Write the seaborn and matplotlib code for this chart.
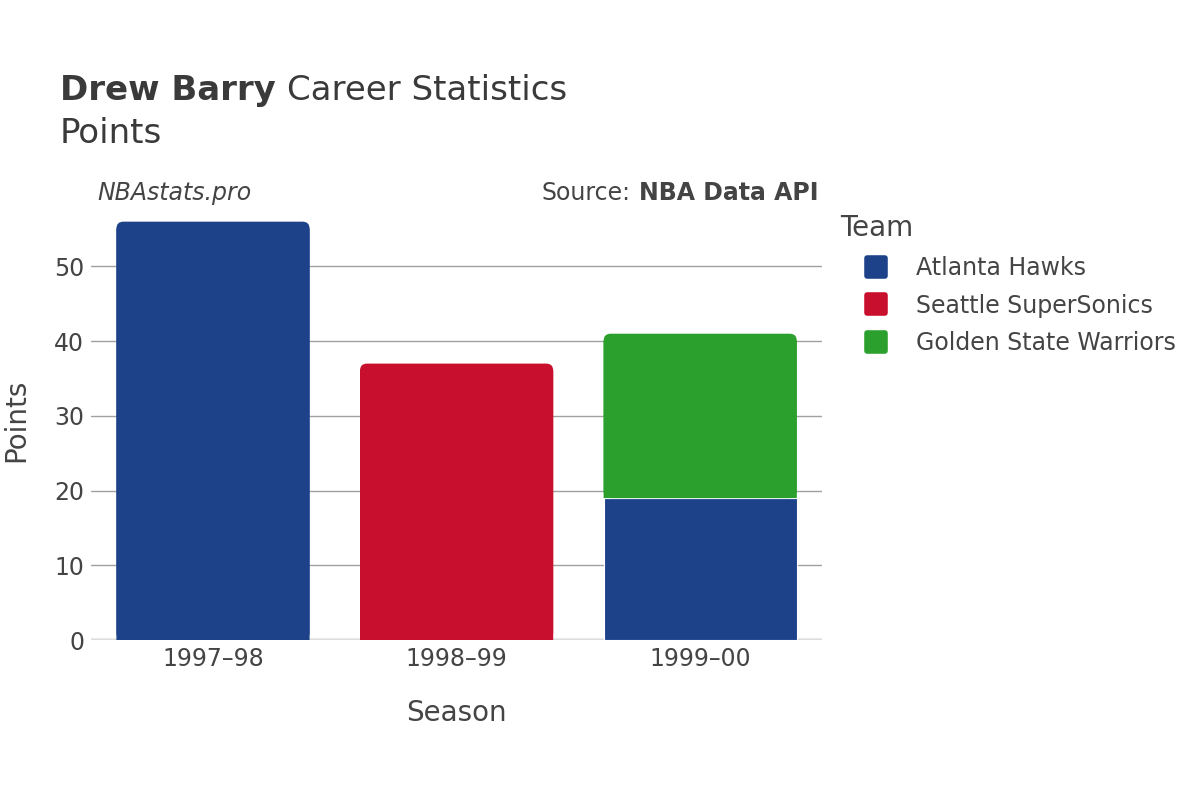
import pandas as pd
import numpy as np
import matplotlib
matplotlib.use("Agg")
import matplotlib.pyplot as plt
import seaborn as sns
from matplotlib.patches import FancyBboxPatch
from matplotlib.lines import Line2D
from matplotlib.markers import MarkerStyle

# data
seasons = ["1997–98", "1998–99", "1999–00", "1999–00"]
teams = ["Atlanta Hawks", "Seattle SuperSonics", "Atlanta Hawks", "Golden State Warriors"]
points = [56, 37, 19, 22]

team_order = ["Atlanta Hawks", "Seattle SuperSonics", "Golden State Warriors"]
team_colors = ["#1d428a", "#c8102e", "#2ca02c"]
season_order = ["1997–98", "1998–99", "1999–00"]

df = pd.DataFrame({"Season": seasons, "Team": teams, "Points": points})
df["Season"] = pd.Categorical(df["Season"], categories=season_order, ordered=True)

sns.set_style("white")
plt.rcParams['font.family'] = ['DejaVu Sans']
text_col = "#444444"

fig = plt.figure(figsize=(12, 8), dpi=100)
ax = fig.add_axes([0.076, 0.2, 0.609, 0.55])

# stack bottom-up: Atlanta first, then the others on top
palette = dict(zip(team_order, team_colors))
sns.histplot(data=df, x="Season", weights="Points", hue="Team",
             hue_order=team_order[::-1], multiple="stack", discrete=True,
             shrink=0.793, palette=palette, alpha=1, edgecolor="white",
             linewidth=0.8, legend=False, ax=ax)

ax.set_xlim(-0.5, 2.5)
ax.set_ylim(0, 58.9)

# round the top corners of each stack
tops = {}
for p in ax.patches:
    if p.get_height() <= 0:
        continue
    key = round(p.get_x(), 3)
    if key not in tops or p.get_y() + p.get_height() > tops[key].get_y() + tops[key].get_height():
        tops[key] = p
r_x = 7 / 243.5
r_y = 7 / 7.48
for p in tops.values():
    x0, y0, w, h = p.get_x(), p.get_y(), p.get_width(), p.get_height()
    fc = p.get_facecolor()
    p.set_height(h - r_y)
    p.set_linewidth(0)
    p.set_snap(False)
    rb = FancyBboxPatch((x0, y0), w, h,
                        boxstyle="round,pad=0,rounding_size=%f" % r_x,
                        mutation_aspect=r_y / r_x, facecolor=fc,
                        edgecolor="none", linewidth=0, zorder=p.get_zorder())
    rb.set_snap(False)
    ax.add_patch(rb)
    p.set_zorder(rb.get_zorder() + 0.1)

ax.set_yticks([0, 10, 20, 30, 40, 50])
ax.yaxis.grid(True, color="#a0a0a0", linewidth=1)
ax.set_axisbelow(True)
for s in ax.spines.values():
    s.set_visible(False)
ax.axhline(0, color="#ebebeb", linewidth=3, zorder=0.5)
ax.tick_params(axis="both", length=0, labelsize=17, colors=text_col, pad=5)
ax.set_xticks(range(3))
ax.set_xticklabels(season_order)
ax.set_xlabel("Season", fontsize=20, color=text_col, labelpad=20)
ax.set_ylabel("Points", fontsize=20, color=text_col, labelpad=17)

# titles
t1 = fig.text(0.05, 0.887, "Drew Barry", fontsize=24.5, fontweight="bold",
              color="#3a3a3a", va="center")
fig.canvas.draw()
bb = t1.get_window_extent().transformed(fig.transFigure.inverted())
fig.text(bb.x1 + 0.009, 0.887, "Career Statistics", fontsize=24.5,
         color="#3a3a3a", va="center")
fig.text(0.05, 0.833, "Points", fontsize=24.5, color="#3a3a3a", va="center")

fig.text(0.081, 0.759, "NBAstats.pro", fontsize=17, style="italic",
         color=text_col, va="center")
s1 = fig.text(0.682, 0.759, "NBA Data API", fontsize=17, fontweight="bold",
              color=text_col, va="center", ha="right")
fig.canvas.draw()
bb2 = s1.get_window_extent().transformed(fig.transFigure.inverted())
fig.text(bb2.x0 - 0.007, 0.759, "Source:", fontsize=17, color=text_col,
         va="center", ha="right")

# legend
mk = MarkerStyle("s", joinstyle="round")
handles = [Line2D([0], [0], marker=mk, linestyle="", markersize=13,
                  markeredgewidth=4, markerfacecolor=c, markeredgecolor=c)
           for c in team_colors]
leg = fig.legend(handles, team_order, loc="upper left",
                 bbox_to_anchor=(0.69, 0.747), frameon=False,
                 title="Team", fontsize=17, title_fontsize=20,
                 labelspacing=0.58, handletextpad=0.13, handlelength=3.1,
                 borderpad=0)
leg._legend_box.align = "left"
for t in leg.get_texts():
    t.set_color(text_col)
leg.get_title().set_color(text_col)

fig.savefig("out.png", dpi=100)
